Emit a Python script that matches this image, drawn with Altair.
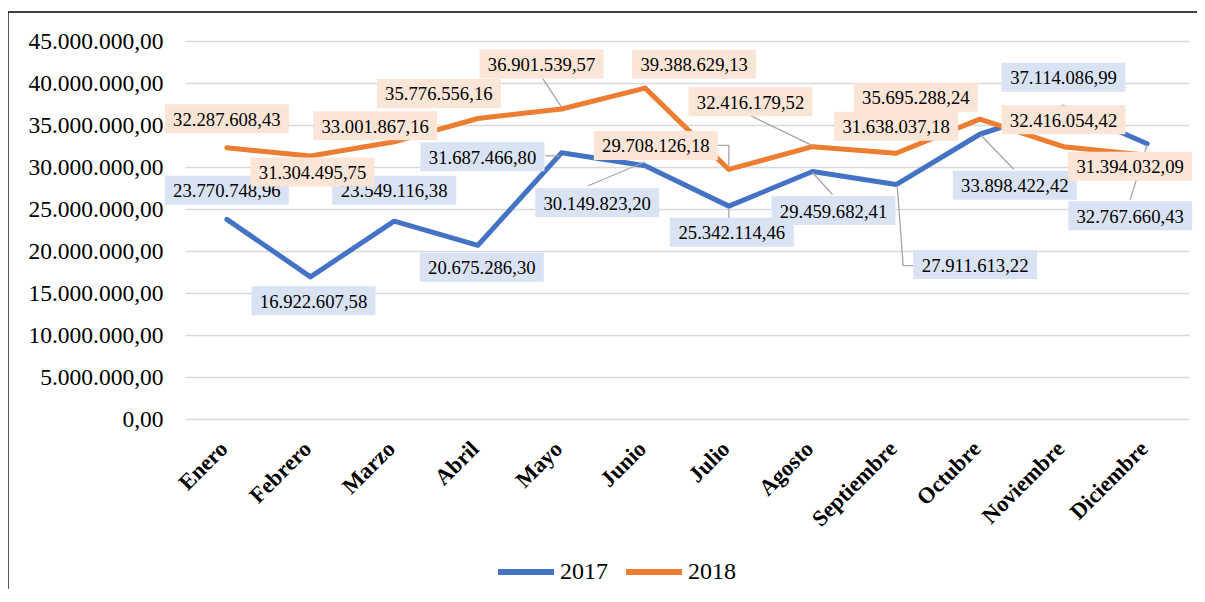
import json
import altair as alt
import pandas as pd

# ---------------- data ----------------
months = ["Enero", "Febrero", "Marzo", "Abril", "Mayo", "Junio", "Julio",
          "Agosto", "Septiembre", "Octubre", "Noviembre", "Diciembre"]
series_names = ["2017", "2018"]
v2017 = [23770748.96, 16922607.58, 23549116.38, 20675286.30, 31687466.80, 30149823.20,
         25342114.46, 29459682.41, 27911613.22, 33898422.42, 37114086.99, 32767660.43]
v2018 = [32287608.43, 31304495.75, 33001867.16, 35776556.16, 36901539.57, 39388629.13,
         29708126.18, 32416179.52, 31638037.18, 35695288.24, 32416054.42, 31394032.09]
y_ticks = [0, 5e6, 10e6, 15e6, 20e6, 25e6, 30e6, 35e6, 40e6, 45e6]

# ---------------- layout (pixel offsets of label boxes from their point) ----------------
lab_off_2017 = [(0, -29), (3, 24), (0, -31), (4, 22), (-79, 4), (-48, 37),
                (3, 26), (21, 39), (79, 80), (35, 51), (0, -30), (-17, 72)]
lab_off_2018 = [(0, -29), (2, 16), (-19, -16), (-39, -25), (-20, -45), (49, -24),
                (-73, -24), (-62, -45), (0, -27), (-64, -22), (0, -27), (-17, 11)]
# leader lines: (series, month index, polyline offsets in px from the point)
leaders = [
    ("2018", 4, [(-19, -31), (0, -2)]),
    ("2017", 4, [(-16, 3), (-2, 3)]),
    ("2017", 5, [(-57, 20), (0, -4)]),
    ("2018", 6, [(-11, -24), (0, -24), (0, -3)]),
    ("2017", 6, [(0, 3), (0, 12)]),
    ("2018", 7, [(-62, -31), (0, -1)]),
    ("2017", 7, [(0, 1), (20, 23)]),
    ("2017", 8, [(1, 1), (7, 81), (17, 81)]),
    ("2017", 9, [(1, 1), (34, 35)]),
    ("2017", 11, [(0, 1), (-17, 56)]),
]

W, H = 1004, 378
XU = W / 12.0
YMAX = 45e6
YU = YMAX / H
BW, BH = 124, 29
FONT = "Liberation Serif"

vals = {"2017": v2017, "2018": v2018}
offs = {"2017": lab_off_2017, "2018": lab_off_2018}

pts = pd.DataFrame([{"idx": i, "series": s, "value": vals[s][i]}
                    for s in series_names for i in range(12)])
labs = pd.DataFrame([{"idx": i, "series": s, "value": vals[s][i],
                      "dx": offs[s][i][0], "dy": offs[s][i][1]}
                     for s in series_names for i in range(12)])
lead_rows = []
for k, (s, i, poly) in enumerate(leaders):
    for j, (dx, dy) in enumerate(poly):
        lead_rows.append({"lid": k, "seq": j, "idx": i, "value": vals[s][i], "dx": dx, "dy": dy})
lead = pd.DataFrame(lead_rows)

xscale = alt.Scale(domain=[-0.5, 11.5], nice=False, zero=False)
yscale = alt.Scale(domain=[0, YMAX], nice=False)

label_expr = json.dumps(months).replace('"', "'") + "[datum.value]"

lines = alt.Chart(pts).mark_line(strokeWidth=5, strokeJoin="round", strokeCap="round").encode(
    x=alt.X("idx:Q", scale=xscale, title=None,
            axis=alt.Axis(values=list(range(12)), labelExpr=label_expr, grid=False, domain=False,
                          ticks=False, labelAngle=-45, labelAlign="right", labelBaseline="top",
                          labelPadding=18, labelOffset=-11, labelFont=FONT, labelFontSize=22.5,
                          labelFontWeight="bold", labelColor="black", labelOverlap=False,
                          labelFlush=False, labelBound=False)),
    y=alt.Y("value:Q", scale=yscale, title=None,
            axis=alt.Axis(values=y_ticks, format=",.2f", grid=True, gridColor="#D9D9D9", gridWidth=1.5,
                          domain=False, ticks=False, labelFont=FONT, labelFontSize=23.5,
                          labelColor="black", labelPadding=22)),
    color=alt.Color("series:N",
                    scale=alt.Scale(domain=series_names, range=["#4472C4", "#ED7D31"]),
                    legend=alt.Legend(title=None, orient="none", legendX=310, legendY=500,
                                      direction="horizontal", symbolType="stroke", symbolSize=3136,
                                      symbolStrokeWidth=6, labelFont=FONT, labelFontSize=24,
                                      labelColor="black", columnPadding=6, labelOffset=3, padding=0)),
)

leader_lines = alt.Chart(lead).transform_calculate(
    lx=f"datum.idx + datum.dx / {XU}",
    ly=f"datum.value - datum.dy * {YU}",
).mark_line(color="#A6A6A6", strokeWidth=1.3).encode(
    x=alt.X("lx:Q", scale=xscale),
    y=alt.Y("ly:Q", scale=yscale),
    detail="lid:N",
    order="seq:Q",
)


def label_layers(s, bg):
    base = alt.Chart(labs).transform_filter(alt.datum.series == s).transform_calculate(
        x1=f"datum.idx + (datum.dx - {BW / 2}) / {XU}",
        x2=f"datum.idx + (datum.dx + {BW / 2}) / {XU}",
        y1=f"datum.value - (datum.dy - {BH / 2}) * {YU}",
        y2=f"datum.value - (datum.dy + {BH / 2}) * {YU}",
        tx=f"datum.idx + datum.dx / {XU}",
        ty=f"datum.value - datum.dy * {YU}",
    )
    box = base.mark_rect(color=bg).encode(
        x=alt.X("x1:Q", scale=xscale), x2="x2:Q",
        y=alt.Y("y1:Q", scale=yscale), y2="y2:Q",
    )
    txt = base.mark_text(font=FONT, fontSize=18.7, color="black", align="center",
                         baseline="middle", dy=1).encode(
        x=alt.X("tx:Q", scale=xscale),
        y=alt.Y("ty:Q", scale=yscale),
        text=alt.Text("value:Q", format=",.2f"),
    )
    return [box, txt]


one = pd.DataFrame({"a": [0]})
frame_top = alt.Chart(one).mark_rule(color="black", strokeWidth=1.3).encode(
    x=alt.value(-177), x2=alt.value(W + 30), y=alt.value(-29))
frame_left = alt.Chart(one).mark_rule(color="black", strokeWidth=1.3).encode(
    x=alt.value(-177), y=alt.value(-29), y2=alt.value(H + 200))

chart = alt.layer(
    frame_top, frame_left, lines, leader_lines,
    *label_layers("2017", "#DAE3F3"),
    *label_layers("2018", "#FBE5D6"),
).properties(
    width=W, height=H,
    padding={"left": 177, "top": 33, "right": 8, "bottom": 170},
    autosize=alt.AutoSizeParams(type="none"),
).configure(
    locale={"number": {"decimal": ",", "thousands": ".", "grouping": [3], "currency": ["", ""]}},
).configure_view(stroke=None)

chart.save("out.html", embed_options={"renderer": "svg", "actions": False})
